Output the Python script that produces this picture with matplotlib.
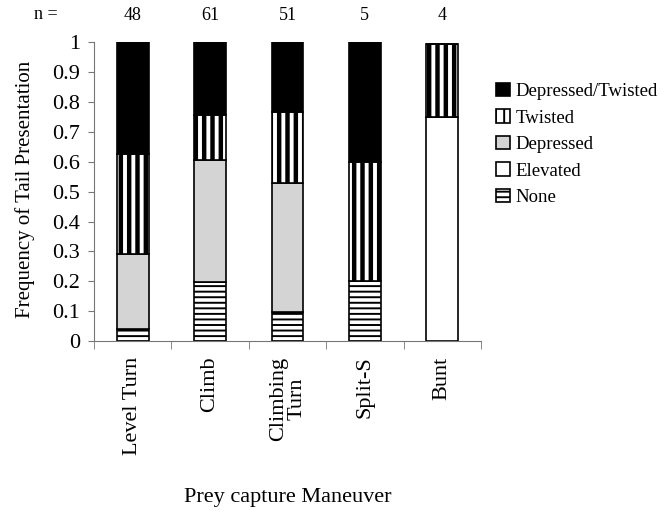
import matplotlib
matplotlib.use("Agg")
import matplotlib.pyplot as plt
from matplotlib.patches import Patch
import numpy as np

# data (fractions per maneuver)
maneuvers = ["Level Turn", "Climb", "Climbing\nTurn", "Split-S", "Bunt"]
n_obs = [48, 61, 51, 5, 4]
none_frac = [0.042, 0.197, 0.098, 0.20, 0.0]
elevated_frac = [0.0, 0.0, 0.0, 0.0, 0.75]
depressed_frac = [0.25, 0.41, 0.431, 0.0, 0.0]
twisted_frac = [0.333, 0.148, 0.236, 0.40, 0.245]
dep_twisted_frac = [0.375, 0.245, 0.235, 0.40, 0.0]

plt.rcParams["font.family"] = ["Liberation Serif", "DejaVu Serif"]
plt.rcParams["hatch.linewidth"] = 1.4

fig = plt.figure(figsize=(6.67, 5.13), dpi=100)
ax = fig.add_axes([0.141, 0.335, 0.580, 0.583])

x = np.arange(len(maneuvers))
width = 0.41

styles = [
	("None", none_frac, dict(facecolor="white", hatch="---")),
	("Elevated", elevated_frac, dict(facecolor="white")),
	("Depressed", depressed_frac, dict(facecolor="#d4d4d4")),
	("Twisted", twisted_frac, dict(facecolor="white", hatch="||")),
	("Depressed/Twisted", dep_twisted_frac, dict(facecolor="black")),
]

bottom = np.zeros(len(maneuvers))
handles = {}
for name, vals, kw in styles:
	vals = np.asarray(vals, dtype=float)
	bars = ax.bar(x, vals, width, bottom=bottom, edgecolor="black", linewidth=1.2, **kw)
	if name == "Twisted":
		for b in bars:
			if hasattr(b, "set_hatch_linewidth"):
				b.set_hatch_linewidth(3.2)
	bottom += vals
	h = Patch(edgecolor="black", linewidth=1.2, **kw)
	if name == "Twisted" and hasattr(h, "set_hatch_linewidth"):
		h.set_hatch_linewidth(2.0)
	handles[name] = h

ax.set_xlim(-0.5, len(maneuvers) - 0.5)
ax.set_ylim(0, 1)
ax.set_yticks(np.arange(0, 1.01, 0.1))
ax.set_yticklabels(["0", "0.1", "0.2", "0.3", "0.4", "0.5", "0.6", "0.7", "0.8", "0.9", "1"])
ax.set_xticks(x)
ax.set_xticklabels(maneuvers, rotation=90, va="top", ha="center", linespacing=0.95)
ax.set_xticks(np.arange(-0.5, len(maneuvers), 1.0), minor=True)
ax.tick_params(axis="x", which="major", length=0, pad=11, labelsize=16)
ax.tick_params(axis="x", which="minor", length=6, color="#777777", direction="out")
ax.tick_params(axis="y", length=4, color="#777777", labelsize=16, pad=6)

for s in ("top", "right"):
	ax.spines[s].set_visible(False)
for s in ("left", "bottom"):
	ax.spines[s].set_color("#777777")
	ax.spines[s].set_linewidth(0.8)

# sample sizes above the bars
for xi, n in zip(x, n_obs):
	ax.text(xi, 1.09, str(n), ha="center", va="center", fontsize=13)
fig.text(0.068, 0.971, "n =", ha="center", va="center", fontsize=13)

fig.text(0.037, 0.63, "Frequency of Tail Presentation", rotation=90, ha="center", va="center", fontsize=15)
fig.text(0.432, 0.031, "Prey capture Maneuver", ha="center", va="center", fontsize=16)

order = ["Depressed/Twisted", "Twisted", "Depressed", "Elevated", "None"]
ax.legend([handles[k] for k in order], order, loc="upper left", bbox_to_anchor=(0.733, 0.853),
	bbox_transform=fig.transFigure, frameon=False, fontsize=13.5, handlelength=0.7, handleheight=0.7,
	handletextpad=0.3, labelspacing=0.5, borderaxespad=0)

fig.savefig("out.png", dpi=100)
